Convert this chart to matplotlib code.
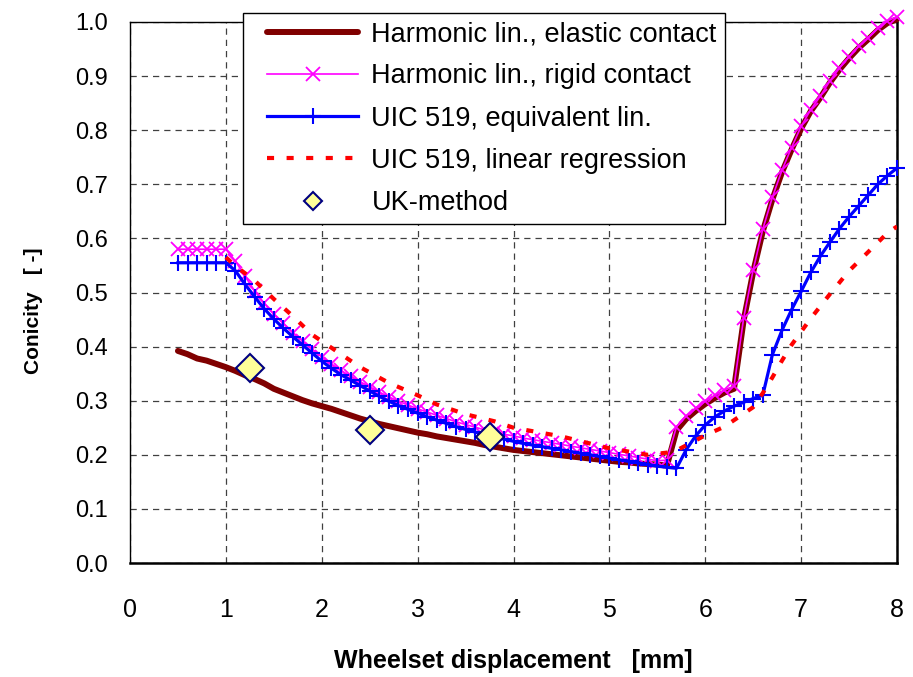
import numpy as np
import matplotlib
matplotlib.use("Agg")
from matplotlib import pyplot as plt
from matplotlib.lines import Line2D
from matplotlib.legend_handler import HandlerLine2D

# wheelset displacement samples [mm]
displacement = np.round(np.arange(0.5, 8.01, 0.1), 1)

elastic = [
    0.392, 0.386, 0.378, 0.374, 0.368, 0.362, 0.355, 0.347, 0.340, 0.332,
    0.322, 0.315, 0.308, 0.301, 0.295, 0.290, 0.285, 0.279, 0.273, 0.267,
    0.262, 0.257, 0.253, 0.249, 0.245, 0.241, 0.238, 0.234, 0.231, 0.228,
    0.225, 0.222, 0.218, 0.215, 0.212, 0.209, 0.207, 0.205, 0.203, 0.201,
    0.199, 0.197, 0.195, 0.193, 0.191, 0.189, 0.187, 0.186, 0.184, 0.183,
    0.182, 0.180, 0.245, 0.266, 0.281, 0.294, 0.305, 0.315, 0.322, 0.448,
    0.538, 0.613, 0.672, 0.722, 0.764, 0.803, 0.835, 0.860, 0.888, 0.912,
    0.933, 0.952, 0.968, 0.985, 0.998, 1.005,
]

rigid = [
    0.580, 0.580, 0.580, 0.580, 0.580, 0.580, 0.558, 0.530, 0.503, 0.480,
    0.460, 0.443, 0.426, 0.410, 0.395, 0.381, 0.368, 0.356, 0.345, 0.335,
    0.326, 0.316, 0.307, 0.299, 0.292, 0.285, 0.279, 0.273, 0.267, 0.261,
    0.256, 0.251, 0.246, 0.242, 0.238, 0.235, 0.231, 0.228, 0.225, 0.222,
    0.219, 0.216, 0.213, 0.210, 0.207, 0.204, 0.201, 0.198, 0.195, 0.192,
    0.189, 0.190, 0.252, 0.271, 0.286, 0.299, 0.310, 0.319, 0.327, 0.452,
    0.542, 0.617, 0.676, 0.726, 0.768, 0.807, 0.838, 0.863, 0.891, 0.915,
    0.936, 0.955, 0.971, 0.988, 1.002, 1.010,
]

uic_equiv = [
    0.555, 0.555, 0.555, 0.555, 0.555, 0.555, 0.540, 0.515, 0.492, 0.470,
    0.451, 0.434, 0.418, 0.403, 0.388, 0.373, 0.360, 0.348, 0.338, 0.328,
    0.318, 0.308, 0.299, 0.291, 0.284, 0.277, 0.270, 0.264, 0.258, 0.252,
    0.247, 0.242, 0.237, 0.233, 0.229, 0.225, 0.221, 0.218, 0.215, 0.212,
    0.209, 0.206, 0.203, 0.200, 0.197, 0.194, 0.191, 0.188, 0.185, 0.182,
    0.179, 0.177, 0.175, 0.209, 0.235, 0.255, 0.270, 0.281, 0.290, 0.297,
    0.304, 0.310, 0.385, 0.430, 0.468, 0.502, 0.537, 0.567, 0.593, 0.618,
    0.640, 0.660, 0.680, 0.700, 0.716, 0.730,
]

regr_x = [1.0, 1.1, 1.3, 1.5, 1.7, 1.9, 2.1, 2.4, 2.7, 3.0, 3.2, 3.5, 3.8,
          4.0, 4.5, 5.0, 5.4, 5.6, 5.7, 6.0, 6.2, 6.5, 6.6, 6.7, 6.8, 6.9,
          7.1, 7.3, 7.5, 7.7, 7.9, 8.0]
uic_regr = [0.565, 0.549, 0.522, 0.488, 0.456, 0.422, 0.398, 0.362, 0.333,
            0.310, 0.293, 0.275, 0.262, 0.250, 0.234, 0.212, 0.200, 0.204,
            0.208, 0.236, 0.252, 0.288, 0.314, 0.343, 0.374, 0.403, 0.452,
            0.497, 0.540, 0.575, 0.610, 0.622]

uk_x = [1.25, 2.5, 3.75]
uk_method = [0.360, 0.245, 0.233]

labels = [
    "Harmonic lin., elastic contact",
    "Harmonic lin., rigid contact",
    "UIC 519, equivalent lin.",
    "UIC 519, linear regression",
    "UK-method",
]

plt.rcParams["font.family"] = ["Liberation Sans", "DejaVu Sans"]

fig = plt.figure(figsize=(9.13, 6.77), dpi=100)
ax = fig.add_axes([130 / 913, 1 - 563 / 677, 767 / 913, 541 / 677])

ax.plot(displacement, elastic, color="#800000", lw=4.3, solid_capstyle="round",
        zorder=3, clip_on=False)
ax.plot(displacement, rigid, color="#FF00FF", lw=1.2, marker="x", ms=10,
        mew=1.3, zorder=4, clip_on=False)
ax.plot(displacement, uic_equiv, color="#0000FF", lw=2.3, marker="+", ms=12,
        mew=1.5, zorder=5, clip_on=False)
ax.plot(regr_x, uic_regr, color="#FF0000", lw=3.0, ls=(0, (1.7, 3.0)),
        zorder=6)
ax.plot(uk_x, uk_method, ls="none", marker="D", ms=14, mfc="#FFFF99",
        mec="#000080", mew=1.5, zorder=7)

ax.set_xlim(0, 8)
ax.set_ylim(0, 1.0)
ax.set_xticks(np.arange(0, 9, 1))
ax.set_yticks(np.arange(0, 1.01, 0.1))
ax.set_yticklabels([f"{v:.1f}" for v in np.arange(0, 1.01, 0.1)], fontsize=17)
ax.set_xticklabels([str(v) for v in range(9)], fontsize=18)
ax.tick_params(axis="both", length=0)
ax.tick_params(axis="x", pad=25)
ax.tick_params(axis="y", pad=16)

ax.grid(True, color="#404040", ls=(0, (5, 4)), lw=0.9)
ax.set_axisbelow(True)
for side in ["left", "top"]:
    ax.spines[side].set_linewidth(1.0)
for side in ["right", "bottom"]:
    ax.spines[side].set_linewidth(1.8)

ax.set_xlabel("Wheelset displacement   [mm]", fontsize=18, fontweight="bold")
ax.set_ylabel("Conicity   [ -]", fontsize=15, fontweight="bold")
ax.xaxis.set_label_coords(0.5, (563 - 661) / 541, transform=ax.transAxes)
ax.xaxis.label.set_va("center")
ax.yaxis.set_label_coords((33 - 130) / 767, 0.466, transform=ax.transAxes)
ax.yaxis.label.set_va("center")

handles = [
    Line2D([], [], color="#800000", lw=4.3, solid_capstyle="round"),
    Line2D([], [], color="#FF00FF", lw=1.2, marker="x", ms=10, mew=1.3),
    Line2D([], [], color="#0000FF", lw=2.3, marker="+", ms=12, mew=1.5),
    Line2D([], [], color="#FF0000", lw=3.0, ls=(0, (1.7, 3.0))),
    Line2D([], [], ls="none", marker="D", ms=9, mfc="#FFFF99", mec="#000080",
           mew=1.5),
]
leg = fig.legend(handles, labels, loc="upper left",
                 bbox_to_anchor=(243 / 913, 1 - 13 / 677),
                 bbox_transform=fig.transFigure, fontsize=19.5,
                 handlelength=3.96, labelspacing=0.6, borderpad=0.3,
                 handletextpad=0.48, fancybox=False, framealpha=1,
                 edgecolor="black", borderaxespad=0,
                 handler_map={Line2D: HandlerLine2D(xpad=0.6)})
leg.get_frame().set_linewidth(1.0)

fig.savefig("out.png", dpi=100)
